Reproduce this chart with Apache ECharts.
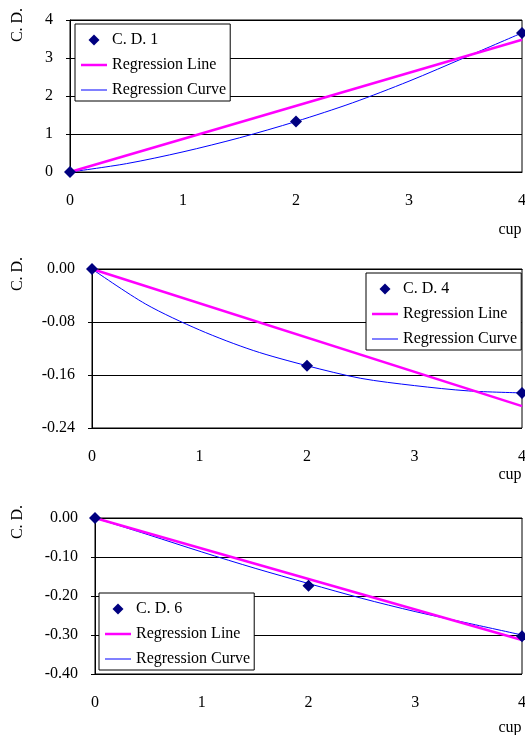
<!DOCTYPE html>
<html>
<head>
<meta charset="utf-8">
<title>C. D. regression</title>
<script src="https://cdn.jsdelivr.net/npm/echarts@6/dist/echarts.min.js"></script>
<style>
  body { margin:0; background:#fff; }
  .pane { position:absolute; left:0; width:525px; height:245px; }
</style>
</head>
<body>
<div id="c1" class="pane" style="top:0"></div>
<div id="c2" class="pane" style="top:245px"></div>
<div id="c3" class="pane" style="top:490px"></div>
<script>
// x positions (cup)
var cupX = [0, 2, 4];
var lineX = [0, 4];
var curveX = [0, 0.5, 1, 1.5, 2, 2.5, 3, 3.5, 4];

// C. D. 1
var cd1 = [0, 1.33, 3.66];
var line1 = [0, 3.48];
var curve1 = [0, 0.22, 0.53, 0.9, 1.33, 1.82, 2.39, 3.02, 3.66];

// C. D. 4
var cd4 = [0, -0.146, -0.187];
var line4 = [0, -0.207];
var curve4 = [0, -0.053, -0.092, -0.123, -0.146, -0.165, -0.176, -0.184, -0.187];

// C. D. 6
var cd6 = [0, -0.174, -0.303];
var line6 = [0, -0.313];
var curve6 = [0, -0.043, -0.087, -0.129, -0.168, -0.206, -0.240, -0.270, -0.300];

var serif = '"Liberation Serif", "Times New Roman", serif';

// legend icons: diamond keeps its aspect, lines are thin bars
var diamondIcon = 'path://M5,0L10,5L5,10L0,5Z';
var thickIcon = 'path://M0,0h26v2.5h-26z';
var thinIcon = 'path://M0,0h26v1h-26z';

function pairs(xs, ys) {
    return xs.map(function (x, i) { return [x, ys[i]]; });
}

function build(c) {
    return {
        animation: false,
        textStyle: { fontFamily: serif, color: '#000' },
        grid: { left: c.grid[0], top: c.grid[1], right: c.grid[2], bottom: c.grid[3],
                outerBoundsMode: 'none', containLabel: false,
                show: true, borderColor: '#000', borderWidth: 1, backgroundColor: '#fff' },
        legend: {
            orient: 'vertical', left: c.legend[0], top: c.legend[1],
            selectedMode: false, symbolKeepAspect: true,
            backgroundColor: '#fff', borderColor: '#000', borderWidth: 1, borderRadius: 0,
            padding: [8, 4, 3, 6], itemGap: 9, itemWidth: 26, itemHeight: 11,
            textStyle: { fontFamily: serif, fontSize: 16, color: '#000', lineHeight: 16 },
            data: [
                { name: c.name, icon: diamondIcon },
                { name: 'Regression Line', icon: thickIcon },
                { name: 'Regression Curve', icon: thinIcon }
            ]
        },
        xAxis: {
            type: 'value', min: 0, max: 4, interval: 1,
            axisLine: { lineStyle: { color: '#000', width: 1 } },
            axisTick: { show: false },
            splitLine: { show: false },
            axisLabel: { fontFamily: serif, fontSize: 16, color: '#000', margin: 21 }
        },
        yAxis: {
            type: 'value', min: c.yMin, max: c.yMax, interval: c.yStep,
            axisLine: { show: true, lineStyle: { color: '#000', width: 1 } },
            axisTick: { show: true, length: 4, lineStyle: { color: '#000' } },
            splitLine: { lineStyle: { color: '#000', width: 1 } },
            axisLabel: { fontFamily: serif, fontSize: 16, color: '#000', margin: 17,
                formatter: function (v) { return v.toFixed(c.dec); } }
        },
        graphic: [
            { type: 'text', x: 18, y: c.cdY, rotation: Math.PI / 2,
              style: { text: 'C. D.', fill: '#000', font: '16px ' + serif, align: 'center', verticalAlign: 'middle' } },
            { type: 'text', x: 510, y: c.cupY,
              style: { text: 'cup', fill: '#000', font: '16px ' + serif, align: 'center', verticalAlign: 'middle' } }
        ],
        series: [
            { name: 'Regression Curve', type: 'line', data: pairs(curveX, c.curve),
              smooth: 0.3, symbol: 'none', z: 2,
              lineStyle: { color: '#0000ff', width: 1 }, itemStyle: { color: '#0000ff' } },
            { name: 'Regression Line', type: 'line', data: pairs(lineX, c.line),
              symbol: 'none', z: 3,
              lineStyle: { color: '#ff00ff', width: 2.5 }, itemStyle: { color: '#ff00ff' } },
            { name: c.name, type: 'scatter', data: pairs(cupX, c.pts),
              symbol: 'diamond', symbolSize: 12, z: 4,
              itemStyle: { color: '#000080', opacity: 1 } }
        ]
    };
}

var chart1 = echarts.init(document.getElementById('c1'));
var chart2 = echarts.init(document.getElementById('c2'));
var chart3 = echarts.init(document.getElementById('c3'));

chart1.setOption(build({
    name: 'C. D. 1', pts: cd1, line: line1, curve: curve1,
    grid: [70, 20, 3, 73], legend: [75, 24],
    yMin: 0, yMax: 4, yStep: 1, dec: 0, cdY: 25, cupY: 230
}));
chart2.setOption(build({
    name: 'C. D. 4', pts: cd4, line: line4, curve: curve4,
    grid: [92, 24, 3, 62], legend: [366, 28],
    yMin: -0.24, yMax: 0, yStep: 0.08, dec: 2, cdY: 29, cupY: 230
}));
chart3.setOption(build({
    name: 'C. D. 6', pts: cd6, line: line6, curve: curve6,
    grid: [95, 28, 3, 61], legend: [99, 103],
    yMin: -0.4, yMax: 0, yStep: 0.1, dec: 2, cdY: 32, cupY: 238
}));
</script>
</body>
</html>
